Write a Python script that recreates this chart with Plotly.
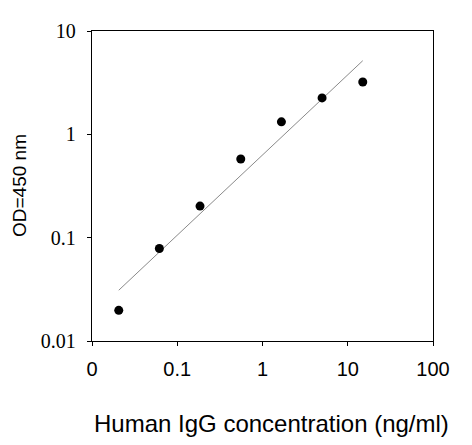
import plotly.graph_objects as go

# standard curve data (3-fold dilutions)
conc = [0.0206, 0.0617, 0.185, 0.556, 1.667, 5.0, 15.0]
od450 = [0.0198, 0.0785, 0.202, 0.577, 1.32, 2.25, 3.21]

# fitted line end points
fit_x = [0.0206, 15.0]
fit_y = [0.031, 5.16]

x_ticks = [0.01, 0.1, 1, 10, 100]
x_labels = ["0", "0.1", "1", "10", "100"]
y_ticks = [0.01, 0.1, 1, 10]
y_labels = ["0.01", "0.1", "1", "10"]

sans = 'Liberation Sans, Arial'
serif = 'Liberation Serif, Times New Roman'

fig = go.Figure()
fig.add_trace(go.Scatter(x=fit_x, y=fit_y, mode='lines',
                         line=dict(color='#8a8a8a', width=1), showlegend=False))
fig.add_trace(go.Scatter(x=conc, y=od450, mode='markers',
                         marker=dict(size=9, color='black'), showlegend=False))

fig.update_xaxes(type='log', range=[-2, 2], tickvals=x_ticks, ticktext=x_labels,
                 showline=True, linecolor='black', linewidth=1.3, mirror=True,
                 ticks='outside', ticklen=4, tickcolor='black', showgrid=False, zeroline=False,
                 ticklabelstandoff=6,
                 tickfont=dict(family=sans, size=20, color='black'))
fig.update_yaxes(type='log', range=[-2, 1], tickvals=y_ticks, ticktext=y_labels,
                 showline=True, linecolor='black', linewidth=1.3, mirror=True,
                 ticks='outside', ticklen=4, tickcolor='black', showgrid=False, zeroline=False,
                 ticklabelstandoff=7,
                 tickfont=dict(family=serif, size=20, color='black'))

# axis titles placed as annotations to match the original offsets
fig.add_annotation(text='Human IgG concentration (ng/ml)', xref='paper', yref='paper',
                   x=0.525, y=0, yshift=-82, xanchor='center', yanchor='middle',
                   showarrow=False, font=dict(family=sans, size=24, color='black'))
fig.add_annotation(text='OD=450 nm', xref='paper', yref='paper', textangle=-90,
                   x=0, y=0.5, xshift=-73, xanchor='center', yanchor='middle',
                   showarrow=False, font=dict(family=sans, size=19, color='black'))

fig.update_layout(width=464, height=437, plot_bgcolor='white', paper_bgcolor='white',
                  margin=dict(l=84, r=39, t=19, b=104))
fig.write_html("out.html")
